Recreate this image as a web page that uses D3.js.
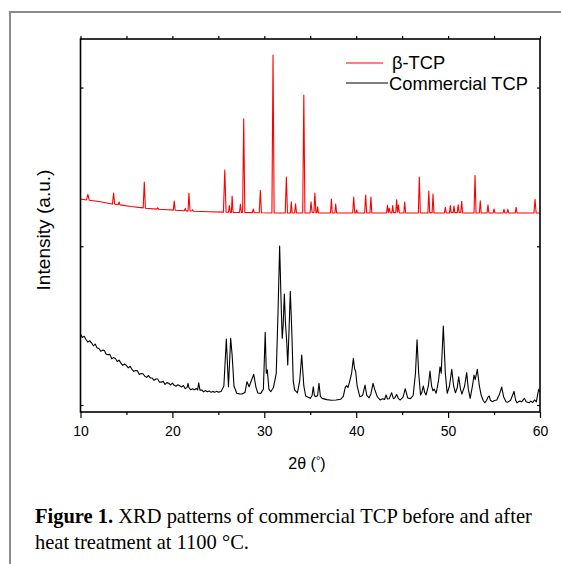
<!DOCTYPE html>
<html><head><meta charset="utf-8">
<script src="https://cdn.jsdelivr.net/npm/d3@7"></script>
<style>body{margin:0;background:#fff;} svg{display:block;}</style>
</head><body>
<script>
// ---- data ----
const seriesNames = ["β-TCP", "Commercial TCP"];
const xTicks = [10, 20, 30, 40, 50, 60];
const xMinorTicks = [15, 25, 35, 45, 55];
const yTicks = [0, 1000, 2000];
// beta-TCP (after heat treatment), [2theta, intensity a.u.]
const betaTCP = [
 [10.0,1298],[10.65,1292],[10.8,1327],[10.95,1290],[12.0,1282],[13.0,1271],
 [13.48,1266],[13.6,1336],[13.72,1265],[14.1,1262],[14.2,1279],[14.3,1261],[15.5,1251],
 [16.82,1242],[16.94,1405],[17.06,1240],[18.3,1234],[18.4,1243],[18.5,1233],[19.5,1230],
 [20.1,1228],[20.2,1285],[20.3,1227],[21.3,1224],[21.4,1239],[21.5,1223],
 [21.7,1223],[21.8,1334],[21.92,1222],[22.1,1222],[22.2,1230],[22.3,1221],
 [24.0,1218],[25.55,1215],[25.7,1481],[25.84,1215],[26.1,1214],[26.2,1256],[26.3,1214],
 [26.42,1214],[26.5,1317],[26.6,1214],[27.3,1213],[27.4,1264],[27.5,1213],
 [27.64,1213],[27.76,1804],[27.88,1213],[28.7,1212],[28.8,1235],[28.9,1212],
 [29.45,1211],[29.57,1353],[29.69,1211],[30.83,1210],[30.95,2205],[31.07,1210],
 [32.28,1210],[32.4,1436],[32.52,1210],[32.85,1210],[32.94,1281],[33.03,1210],
 [33.3,1210],[33.4,1268],[33.5,1210],[34.18,1210],[34.3,1953],[34.42,1210],
 [34.98,1210],[35.08,1281],[35.2,1214],[35.4,1212],[35.5,1336],[35.62,1212],
 [35.72,1212],[35.8,1249],[35.9,1210],[37.2,1210],[37.3,1298],[37.4,1210],
 [37.68,1210],[37.77,1266],[37.87,1210],[39.62,1210],[39.73,1310],[39.84,1210],
 [39.97,1210],[40.05,1229],[40.13,1210],[40.92,1210],[41.03,1323],[41.14,1210],
 [41.5,1210],[41.6,1310],[41.7,1210],[43.3,1210],[43.4,1258],[43.5,1212],[43.6,1239],[43.7,1212],
 [43.88,1210],[43.97,1256],[44.06,1212],[44.3,1212],[44.4,1293],[44.5,1215],[44.6,1260],[44.7,1210],
 [45.18,1210],[45.28,1279],[45.38,1210],[46.76,1210],[46.87,1436],[46.98,1210],
 [47.8,1210],[47.9,1348],[48.0,1212],[48.26,1212],[48.36,1329],[48.46,1210],
 [49.6,1210],[49.7,1246],[49.8,1210],[50.15,1210],[50.24,1256],[50.33,1212],
 [50.55,1212],[50.64,1254],[50.73,1212],[51.0,1212],[51.1,1262],[51.2,1214],
 [51.38,1214],[51.48,1283],[51.58,1210],[52.82,1210],[52.93,1447],[53.04,1210],
 [53.4,1210],[53.5,1287],[53.6,1210],[54.24,1210],[54.34,1262],[54.44,1210],
 [54.9,1210],[55.0,1235],[55.1,1210],[55.98,1210],[56.08,1233],[56.18,1210],
 [56.4,1210],[56.5,1233],[56.6,1210],[57.3,1210],[57.4,1246],[57.5,1210],
 [59.34,1210],[59.46,1296],[59.58,1210],[60.0,1210]
];
// commercial TCP (before heat treatment), [2theta, intensity a.u.]
const commercialTCP = [
 [10.0,445],[10.2,426],[10.4,433],[10.6,413],[10.8,396],[11.0,405],[11.2,392],[11.4,373],
 [11.6,384],[11.8,360],[12.0,356],[12.2,339],[12.4,346],[12.6,343],[12.8,320],[13.0,317],
 [13.2,319],[13.4,291],[13.6,299],[13.8,293],[14.0,274],[14.2,283],[14.4,264],[14.6,250],
 [14.8,259],[15.0,248],[15.2,234],[15.4,244],[15.6,225],[15.8,212],[16.0,218],[16.2,215],
 [16.4,193],[16.6,198],[16.8,197],[17.0,181],[17.2,174],[17.4,186],[17.6,171],[17.8,170],
 [18.0,155],[18.2,164],[18.4,164],[18.6,144],[18.8,144],[19.0,149],[19.2,130],[19.4,141],
 [19.6,137],[19.8,127],[20.0,138],[20.2,124],[20.4,118],[20.6,128],[20.8,121],[21.0,113],
 [21.2,123],[21.4,103],[21.6,111],[21.7,137],[21.8,110],[22.0,96],[22.2,102],[22.4,95],
 [22.6,104],[22.75,95],[22.86,140],[23.0,94],[23.2,95],[23.4,83],[23.6,91],[23.8,84],
 [24.0,89],[24.2,80],[24.4,85],[24.6,80],[24.8,86],[25.0,81],[25.3,85],[25.6,120],
 [25.87,416],[26.1,115],[26.34,420],[26.5,315],[26.7,120],[27.0,74],[27.3,70],[27.6,69],
 [27.9,80],[28.12,147],[28.35,115],[28.5,140],[28.85,193],[29.1,110],[29.3,76],[29.6,72],
 [29.9,100],[30.1,458],[30.22,200],[30.33,221],[30.5,100],[30.7,84],[31.0,110],[31.3,200],
 [31.5,600],[31.67,1002],[31.85,600],[31.95,420],[32.05,500],[32.18,699],[32.3,520],[32.45,390],
 [32.55,252],[32.65,400],[32.83,716],[33.0,450],[33.15,150],[33.3,95],[33.6,77],[33.85,150],
 [34.07,315],[34.3,120],[34.5,57],[35.0,42],[35.2,60],[35.33,115],[35.45,60],[35.6,52],
 [35.8,60],[35.95,137],[36.1,55],[36.3,42],[36.8,34],[37.3,30],[37.8,32],[38.3,36],
 [38.6,55],[38.8,110],[38.96,122],[39.1,110],[39.25,140],[39.5,200],[39.69,294],[39.82,230],
 [39.95,210],[40.1,120],[40.4,52],[40.7,60],[40.96,126],[41.15,60],[41.4,45],[41.6,70],
 [41.83,137],[42.0,100],[42.3,52],[42.6,32],[42.9,40],[43.1,35],[43.25,63],[43.4,38],
 [43.6,40],[43.86,77],[44.05,40],[44.2,45],[44.4,67],[44.6,40],[44.8,32],[45.1,50],
 [45.34,103],[45.6,45],[45.9,40],[46.2,60],[46.45,200],[46.62,411],[46.8,200],[47.0,63],
 [47.15,80],[47.3,120],[47.45,80],[47.6,63],[47.85,120],[48.03,214],[48.2,120],[48.35,90],
 [48.5,100],[48.7,74],[48.95,150],[49.12,241],[49.25,200],[49.48,498],[49.7,200],[49.9,74],
 [50.15,120],[50.4,225],[50.6,120],[50.8,77],[51.0,110],[51.15,178],[51.35,100],[51.5,69],
 [51.8,120],[52.02,204],[52.2,100],[52.4,42],[52.65,120],[52.82,189],[52.95,160],[53.18,225],
 [53.4,120],[53.6,63],[53.8,30],[54.0,14],[54.2,30],[54.35,50],[54.48,57],[54.6,30],
 [54.8,21],[55.05,28],[55.3,32],[55.6,70],[55.83,113],[56.05,50],[56.3,21],[56.5,18],
 [56.8,30],[57.0,60],[57.17,86],[57.35,30],[57.5,14],[57.8,25],[58.0,20],[58.3,42],
 [58.5,20],[58.8,14],[59.0,25],[59.2,15],[59.4,32],[59.6,20],[59.85,99],[60.0,82]
];
const xTitle = "2θ (°)";
const yTitle = "Intensity (a.u.)";
const captionBold = "Figure 1.";
const captionLine1 = " XRD patterns of commercial TCP before and after";
const captionLine2 = "heat treatment at 1100 °C.";

// ---- layout ----
const W = 561, H = 564;
const L = 80.5, R = 540, T = 39, B = 412;
const svg = d3.select("body").append("svg").attr("width", W).attr("height", H);
const sans = "Liberation Sans, Arial, sans-serif";
const serif = "Liberation Serif, Times New Roman, serif";

// page frame (gray)
svg.append("path").attr("d", `M10,${H}V12H${W}`).attr("fill","none").attr("stroke","#8c8c8c").attr("stroke-width",2);

const x = d3.scaleLinear().domain([10, 60]).range([L, R]);
const y = d3.scaleLinear().domain([-44, 2306]).range([B, T]);

const line = d3.line().x(d => x(d[0])).y(d => y(d[1]));
svg.append("clipPath").attr("id","c").append("rect").attr("x",L).attr("y",T).attr("width",R-L).attr("height",B-T);

svg.append("path").datum(commercialTCP).attr("d", line).attr("fill","none")
  .attr("stroke","#000").attr("stroke-width",1.1).attr("stroke-linejoin","round").attr("clip-path","url(#c)");
svg.append("path").datum(betaTCP).attr("d", line).attr("fill","none")
  .attr("stroke","#ff0000").attr("stroke-width",1.1).attr("stroke-linejoin","round").attr("clip-path","url(#c)");

// axes
const axB = svg.append("g").attr("transform",`translate(0,${B})`)
  .call(d3.axisBottom(x).tickValues(xTicks).tickFormat(d3.format("d")).tickSize(6).tickPadding(8));
const axBm = svg.append("g").attr("transform",`translate(0,${B})`)
  .call(d3.axisBottom(x).tickValues(xMinorTicks).tickFormat("").tickSize(3));
const axT = svg.append("g").attr("transform",`translate(0,${T})`)
  .call(d3.axisTop(x).tickValues(xTicks.concat(xMinorTicks)).tickFormat("").tickSize(3));
const axL = svg.append("g").attr("transform",`translate(${L},0)`)
  .call(d3.axisLeft(y).tickValues(yTicks).tickFormat("").tickSize(-3));
const axR = svg.append("g").attr("transform",`translate(${R},0)`)
  .call(d3.axisRight(y).tickValues(yTicks).tickFormat("").tickSize(-3));
[axB, axBm, axT, axL, axR].forEach(g => {
  g.select(".domain").remove();
  g.selectAll(".tick line").attr("stroke","#000").attr("stroke-width",1.2);
});
axB.selectAll(".tick text").attr("font-family", sans).attr("font-size", 14).attr("fill","#000");

svg.append("rect").attr("x",L).attr("y",T).attr("width",R-L).attr("height",B-T)
  .attr("fill","none").attr("stroke","#000").attr("stroke-width",1.6);

// fit helper
function fit(sel, target){
  const w = sel.node().getComputedTextLength();
  const fs = parseFloat(sel.attr("font-size"));
  sel.attr("font-size", fs * target / w);
}

// axis titles
const xt = svg.append("text").attr("x", 307).attr("y", 469).attr("text-anchor","middle")
  .attr("font-family", sans).attr("font-size", 16).attr("fill","#000");
xt.append("tspan").text("2θ (");
xt.append("tspan").attr("dy",-5).attr("font-size",11).text("°");
xt.append("tspan").attr("dy",5).text(")");

const yt = svg.append("text").attr("transform","translate(50,230) rotate(-90)").attr("text-anchor","middle")
  .attr("font-family", sans).attr("font-size", 16).attr("fill","#000").text(yTitle);
fit(yt, 121);

// legend
const legend = svg.append("g");
const lg = [{name: seriesNames[0], color:"#ff0000", x2: 383, yy: 63, tx: 392, ty: 69},
            {name: seriesNames[1], color:"#000", x2: 388, yy: 83, tx: 389, ty: 90}];
lg.forEach(d => {
  legend.append("line").attr("x1",346).attr("x2",d.x2).attr("y1",d.yy).attr("y2",d.yy)
    .attr("stroke",d.color).attr("stroke-width",1.1);
  legend.append("text").attr("x",d.tx).attr("y",d.ty).attr("font-family",sans).attr("font-size",17)
    .attr("fill","#000").text(d.name);
});
fit(legend.selectAll("text").filter((d,i)=>i===1), 139);
legend.selectAll("text").filter((d,i)=>i===0).attr("font-size", legend.selectAll("text").filter((d,i)=>i===1).attr("font-size"));

// caption
const c1 = svg.append("text").attr("x",35).attr("y",523).attr("font-family",serif).attr("font-size",19).attr("fill","#000");
c1.append("tspan").attr("font-weight","bold").text(captionBold);
c1.append("tspan").text(captionLine1);
fit(c1, 497);
svg.append("text").attr("x",35).attr("y",549).attr("font-family",serif).attr("font-size",c1.attr("font-size")).attr("fill","#000").text(captionLine2);
</script>
</body></html>
